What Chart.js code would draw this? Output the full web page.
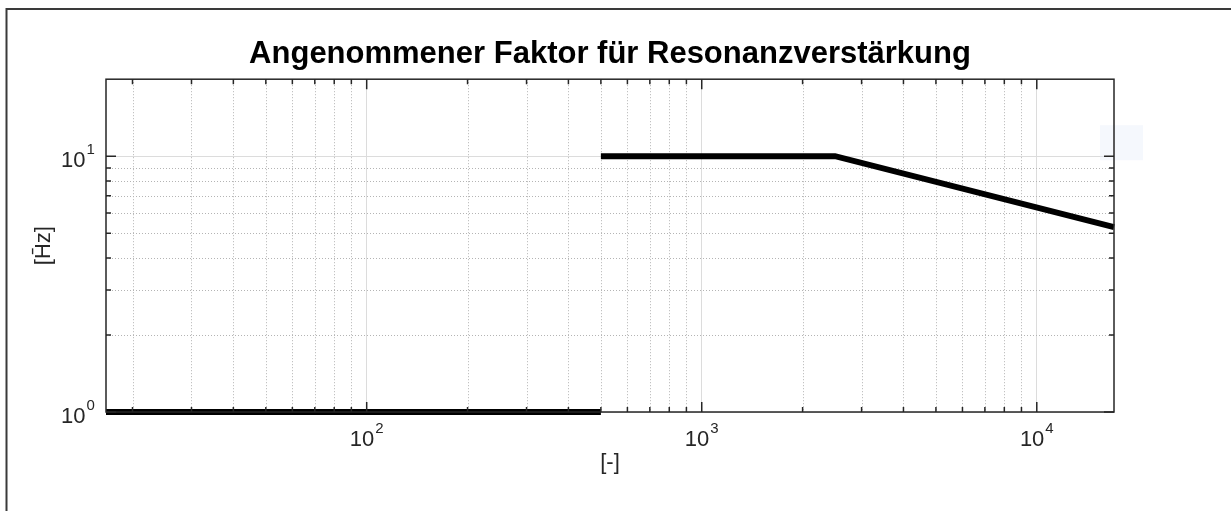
<!DOCTYPE html>
<html>
<head>
<meta charset="utf-8">
<script src="https://cdn.jsdelivr.net/npm/chart.js@4"></script>
<style>
  html, body { margin: 0; padding: 0; background: #ffffff; }
  #wrap { position: relative; width: 1231px; height: 511px; }
  canvas { display: block; }
</style>
</head>
<body>
<div id="wrap"><canvas id="c" width="1231" height="511"></canvas></div>
<script>
// ---- data ----
const titleText = 'Angenommener Faktor für Resonanzverstärkung';
const xAxisLabel = '[-]';
const yAxisLabel = '[H\u0304z]';

const lowX = [16.67, 500];
const lowY = [1, 1];
const highX = [500, 2500, 17000];
const highY = [10, 10, 5.28];

const xTickValues = [100, 1000, 10000];
const xTickLabels = ['10^2', '10^3', '10^4'];
const yTickValues = [1, 10];
const yTickLabels = ['10^0', '10^1'];

const xMin = 16.67, xMax = 17000;
const yMin = 1, yMax = 20;

// ---- helpers ----
function toPoints(xs, ys) { return xs.map((x, i) => ({ x: x, y: ys[i] })); }
function minorValues(lo, hi) {
  const out = [];
  for (let d = 1; d <= 100000; d *= 10) {
    for (let k = 2; k <= 9; k++) {
      const v = d * k;
      if (v > lo && v < hi) out.push(v);
    }
  }
  return out;
}
function majorValues(lo, hi) {
  const out = [];
  for (let d = 1; d <= 100000; d *= 10) if (d >= lo && d <= hi) out.push(d);
  return out;
}

const axisColor = '#262626';
const fontFamily = '"Liberation Sans", Arial, Helvetica, sans-serif';
const baseSize = 22, expSize = 15;

function drawPowerLabel(ctx, label, x, baseline, align) {
  const parts = label.split('^');
  const base = parts[0], exp = parts[1] || '';
  ctx.font = baseSize + 'px ' + fontFamily;
  const wb = ctx.measureText(base).width;
  ctx.font = expSize + 'px ' + fontFamily;
  const we = ctx.measureText(exp).width;
  const total = wb + we + 1;
  let left = x;
  if (align === 'center') left = x - total / 2;
  else if (align === 'right') left = x - total;
  ctx.textAlign = 'left';
  ctx.textBaseline = 'alphabetic';
  ctx.font = baseSize + 'px ' + fontFamily;
  ctx.fillText(base, left, baseline);
  ctx.font = expSize + 'px ' + fontFamily;
  ctx.fillText(exp, left + wb + 1, baseline - 13);
}

const decoPlugin = {
  id: 'deco',
  afterLayout(chart) {
    const a = chart.chartArea;
    if (chart.titleBlock) {
      chart.titleBlock.left = a.left;
      chart.titleBlock.right = a.right;
    }
  },
  beforeDatasetsDraw(chart) {
    const { ctx, chartArea: a, scales } = chart;
    const xs = scales.x, ys = scales.y;
    ctx.save();
    ctx.strokeStyle = '#b4b4b4';
    ctx.lineWidth = 1;
    ctx.setLineDash([1, 2]);
    minorValues(xMin, xMax).forEach(v => {
      const px = Math.round(xs.getPixelForValue(v)) + 0.5;
      ctx.beginPath(); ctx.moveTo(px, a.top); ctx.lineTo(px, a.bottom); ctx.stroke();
    });
    minorValues(yMin, yMax).forEach(v => {
      const py = Math.round(ys.getPixelForValue(v)) + 0.5;
      ctx.beginPath(); ctx.moveTo(a.left, py); ctx.lineTo(a.right, py); ctx.stroke();
    });
    ctx.restore();
    // faint legend artefact box
    ctx.save();
    ctx.fillStyle = 'rgba(225,235,250,0.35)';
    ctx.fillRect(a.right - 14, ys.getPixelForValue(10) - 31, 43, 35);
    ctx.restore();
  },
  afterDatasetsDraw(chart) {
    const { ctx, chartArea: a, scales } = chart;
    const xs = scales.x, ys = scales.y;
    ctx.save();
    ctx.strokeStyle = axisColor;
    ctx.lineWidth = 1.5;
    ctx.setLineDash([]);
    const majorLen = 10, minorLen = 5;
    const tickX = (v, len) => {
      const px = xs.getPixelForValue(v);
      ctx.beginPath();
      ctx.moveTo(px, a.bottom); ctx.lineTo(px, a.bottom - len);
      ctx.moveTo(px, a.top); ctx.lineTo(px, a.top + len);
      ctx.stroke();
    };
    const tickY = (v, len) => {
      const py = ys.getPixelForValue(v);
      ctx.beginPath();
      ctx.moveTo(a.left, py); ctx.lineTo(a.left + len, py);
      ctx.moveTo(a.right, py); ctx.lineTo(a.right - len, py);
      ctx.stroke();
    };
    minorValues(xMin, xMax).forEach(v => tickX(v, minorLen));
    majorValues(xMin, xMax).forEach(v => tickX(v, majorLen));
    minorValues(yMin, yMax).forEach(v => tickY(v, minorLen));
    majorValues(yMin, yMax).forEach(v => tickY(v, majorLen));
    ctx.strokeRect(a.left, a.top, a.right - a.left, a.bottom - a.top);

    // tick labels (10 with raised exponent)
    ctx.fillStyle = axisColor;
    xTickValues.forEach((v, i) => {
      drawPowerLabel(ctx, xTickLabels[i], xs.getPixelForValue(v), a.bottom + 34, 'center');
    });
    yTickValues.forEach((v, i) => {
      drawPowerLabel(ctx, yTickLabels[i], 61, ys.getPixelForValue(v) + 10.5, 'left');
    });
    ctx.restore();
  },
  afterDraw(chart) {
    const { ctx } = chart;
    ctx.save();
    ctx.strokeStyle = '#3a3a3a';
    ctx.lineWidth = 2;
    ctx.beginPath();
    ctx.moveTo(6.5, chart.height);
    ctx.lineTo(6.5, 9);
    ctx.lineTo(chart.width, 9);
    ctx.stroke();
    ctx.restore();
  }
};

const axisFont = { family: fontFamily, size: 22 };

new Chart(document.getElementById('c'), {
  type: 'scatter',
  data: {
    datasets: [
      { data: toPoints(lowX, lowY), showLine: true, clip: false, borderColor: '#000000', borderWidth: 6, pointRadius: 0, pointHoverRadius: 0, borderCapStyle: 'butt', borderJoinStyle: 'miter' },
      { data: toPoints(highX, highY), showLine: true, clip: false, borderColor: '#000000', borderWidth: 6, pointRadius: 0, pointHoverRadius: 0, borderCapStyle: 'butt', borderJoinStyle: 'miter' }
    ]
  },
  options: {
    responsive: false,
    animation: false,
    events: [],
    layout: { padding: { left: 0, right: 117, top: 0, bottom: 0 } },
    plugins: {
      legend: { display: false },
      tooltip: { enabled: false },
      title: {
        display: true,
        text: titleText,
        color: '#000000',
        font: { family: fontFamily, size: 31, weight: 'bold', lineHeight: 1.2 },
        padding: { top: 36, bottom: 6 }
      }
    },
    scales: {
      x: {
        type: 'logarithmic',
        min: xMin, max: xMax,
        afterBuildTicks: s => { s.ticks = xTickValues.map(v => ({ value: v })); },
        afterFit: s => { s.height = 99; },
        ticks: { display: false, autoSkip: false, maxRotation: 0 },
        grid: { color: '#dcdcdc', lineWidth: 1, drawTicks: false },
        border: { display: false },
        title: { display: true, text: xAxisLabel, color: axisColor, font: axisFont, padding: { top: 0, bottom: 35 } }
      },
      y: {
        type: 'logarithmic',
        min: yMin, max: yMax,
        afterBuildTicks: s => { s.ticks = yTickValues.map(v => ({ value: v })); },
        afterFit: s => { s.width = 106; },
        ticks: { display: false, autoSkip: false },
        grid: { color: '#dcdcdc', lineWidth: 1, drawTicks: false },
        border: { display: false },
        title: { display: true, text: yAxisLabel, color: axisColor, font: axisFont, padding: { top: 31, bottom: 0 } }
      }
    }
  },
  plugins: [decoPlugin]
});
</script>
</body>
</html>
